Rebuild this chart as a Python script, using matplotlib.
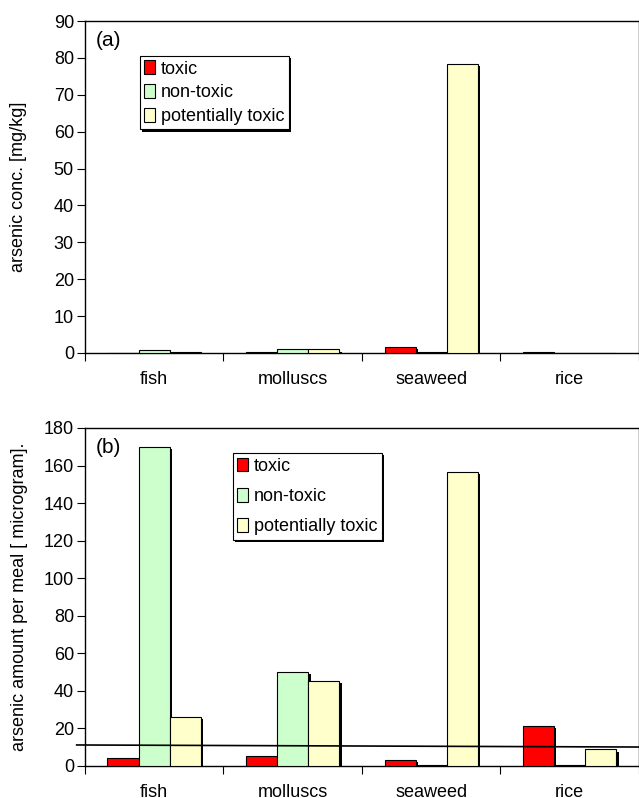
"""Arsenic species in fish, molluscs, seaweed and rice: concentration and amount per meal."""

import matplotlib
matplotlib.use("Agg")
import matplotlib.pyplot as plt
import matplotlib.patheffects as pe
import numpy as np

plt.rcParams["font.family"] = ["Liberation Sans", "DejaVu Sans"]

foods = ["fish", "molluscs", "seaweed", "rice"]
species = ["toxic", "non-toxic", "potentially toxic"]
colors = ["#ff0000", "#ccffcc", "#ffffcc"]

# (a) concentration, mg/kg
conc_toxic = [0.1, 0.2, 1.6, 0.2]
conc_nontoxic = [0.9, 1.1, 0.2, 0.0]
conc_potential = [0.2, 1.0, 78.4, 0.1]

# (b) amount per meal, microgram
meal_toxic = [4.4, 5.3, 3.4, 21.3]
meal_nontoxic = [170, 50, 0.3, 0.3]
meal_potential = [26, 45.3, 156.5, 8.9]

limit_line = [11.2, 10.1]   # reference level drawn across panel (b)


def shadow(d=1.6):
    return [pe.SimplePatchShadow(offset=(d, -d), shadow_rgbFace="black", alpha=1.0),
            pe.Normal()]


def draw_panel(ax, series, ymax, ystep, ylabel, label_x, tag, legend_anchor, spacing):
    x = np.arange(len(foods))
    width = 0.225
    for i, (vals, col, name) in enumerate(zip(series, colors, species)):
        bars = ax.bar(x + (i - 1) * width, vals, width, color=col,
                      edgecolor="black", linewidth=0.8, label=name, zorder=3)
        for b in bars:
            b.set_path_effects(shadow())

    ax.set_xlim(-0.5, 3.5)
    ax.set_ylim(0, ymax)
    ax.set_yticks(np.arange(0, ymax + 1, ystep))
    ax.set_xticks(np.arange(-0.5, 3.6, 1.0))
    ax.set_xticklabels([])
    ax.set_xticks(x, minor=True)
    ax.set_xticklabels(foods, minor=True, fontsize=13)
    ax.tick_params(axis="x", which="minor", length=0, pad=13)
    ax.tick_params(axis="x", which="major", length=6, direction="out")
    ax.tick_params(axis="y", length=6, direction="out", labelsize=13, pad=2)
    ax.set_ylabel(ylabel, fontsize=13)
    ax.yaxis.set_label_coords(label_x, 0.5)
    ax.text(0.02, 0.97, tag, transform=ax.transAxes, fontsize=15, va="top")
    for s in ax.spines.values():
        s.set_linewidth(1.0)

    leg = ax.legend(loc="upper left", bbox_to_anchor=legend_anchor, fontsize=13,
                    frameon=True, fancybox=False, shadow=False, edgecolor="black",
                    framealpha=1.0, facecolor="white",
                    handlelength=0.6, handleheight=0.8, handletextpad=0.3,
                    borderpad=0.25, labelspacing=spacing, borderaxespad=0)
    leg.get_frame().set_linewidth(0.8)
    leg.get_frame().set_path_effects(shadow(1.5))
    for h in leg.legend_handles:
        h.set_path_effects([])
    return ax


fig = plt.figure(figsize=(6.39, 7.98), dpi=100)
ax_a = fig.add_axes([0.133, 1 - 353 / 798, 0.867, 332 / 798])
ax_b = fig.add_axes([0.133, 1 - 766 / 798, 0.867, 338 / 798])

draw_panel(ax_a, [conc_toxic, conc_nontoxic, conc_potential], 90, 10,
           "arsenic conc. [mg/kg]", -0.105, "(a)", (0.099, 0.895), 0.36)
draw_panel(ax_b, [meal_toxic, meal_nontoxic, meal_potential], 180, 20,
           "arsenic amount per meal [ microgram].", -0.103, "(b)", (0.267, 0.926), 0.72)

ax_b.plot([-0.56, 3.5], limit_line, color="black", linewidth=1.2, clip_on=False, zorder=4)

fig.savefig("out.png", dpi=100)
